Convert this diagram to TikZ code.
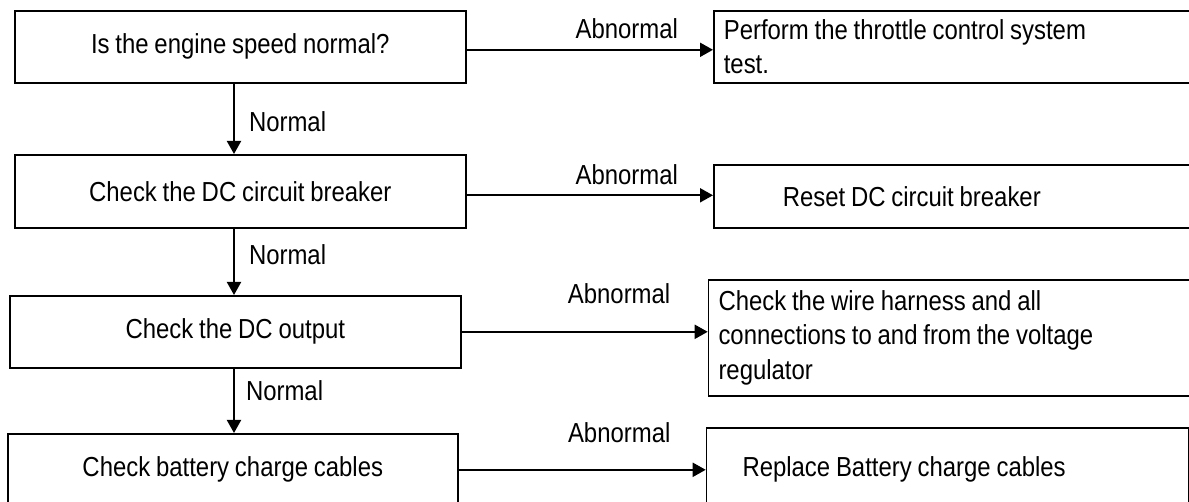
\documentclass[tikz,border=0pt]{standalone}
\usepackage{fontspec}
\setmainfont{Liberation Sans}[FakeStretch=0.87, WordSpace=0.87]
\usetikzlibrary{arrows.meta}

\begin{document}
\begin{tikzpicture}[x=1pt, y=-1pt,
  font=\fontsize{27.5}{34.5}\selectfont,
  box/.style={draw, line width=1.6pt, inner sep=0pt, anchor=north west, align=center},
  sidebox/.style={draw, line width=1.6pt, anchor=north west, inner xsep=10pt, inner ysep=0pt, align=flush left},
  flow/.style={line width=2pt, -{Triangle[length=13pt,width=14pt]}},
  lbl/.style={inner sep=0pt}]
\useasboundingbox (0,0) rectangle (1189,502);
\clip (0,0) rectangle (1189,502);

\node [box, minimum width=451pt, minimum height=72pt] (speed) at (14,10) {Is the engine speed normal?};
\node [box, minimum width=451pt, minimum height=73pt] (breaker) at (14,154) {Check the DC circuit breaker};
\node [box, minimum width=451pt, minimum height=72pt] (output) at (9,295) {Check the DC output};
\node [box, minimum width=450pt, minimum height=72pt] (cables) at (7,433) {Check battery charge cables};

\node [sidebox, text width=467pt, minimum height=72pt] (throttle) at (713,10) {Perform the throttle control system\\test.};
\node [sidebox, text width=467pt, minimum height=63pt] (reset) at (713,164) {\hspace*{59pt}Reset DC circuit breaker};
\node [sidebox, text width=467pt, minimum height=116pt] (harness) at (707.7,279) {Check the wire harness and all\\connections to and from the voltage\\regulator};
\node [sidebox, text width=462.3pt, minimum height=84pt] (replace) at (705.7,427) {\hspace*{26pt}Replace Battery charge cables};

\coordinate (spine) at (234,0);

\draw [flow] (speed.south -| spine) -- (breaker.north -| spine) node [lbl, pos=0.54, right=14pt] (n1) {Normal};
\draw [flow] (breaker.south -| spine) -- (output.north -| spine) node [lbl, pos=0.40, right=14pt] (n2) {Normal};
\draw [flow] (output.south -| spine) -- (cables.north -| spine) node [lbl, pos=0.35, right=11pt] (n3) {Normal};

\draw [flow] ([yshift=-3pt]speed.east) -- ([yshift=-3pt]speed.east -| throttle.west) node [lbl, pos=0.65, yshift=21pt] (a1) {Abnormal};
\draw [flow] ([yshift=-4pt]breaker.east) -- ([yshift=-4pt]breaker.east -| reset.west) node [lbl, pos=0.65, yshift=21pt] (a2) {Abnormal};
\draw [flow] (output.east) -- (output.east -| harness.west) node [lbl, pos=0.64, yshift=38pt] (a3) {Abnormal};
\draw [flow] (cables.east) -- (cables.east -| replace.west) node [lbl, pos=0.65, yshift=37pt] (a4) {Abnormal};
\end{tikzpicture}
\end{document}
